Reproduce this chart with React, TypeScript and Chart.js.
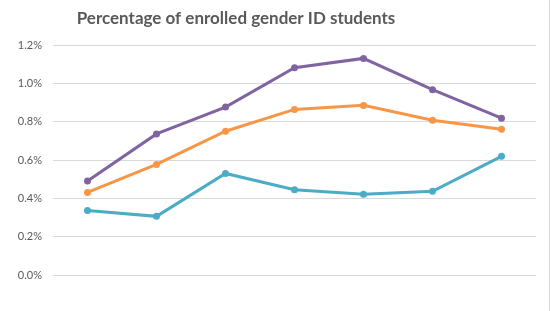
import React, { useEffect, useRef } from "react";
import { Chart, registerables } from "chart.js";

Chart.register(...registerables);

const categories = ["1", "2", "3", "4", "5", "6", "7"];
const purpleValues = [0.49, 0.736, 0.876, 1.081, 1.13, 0.967, 0.818];
const orangeValues = [0.431, 0.577, 0.75, 0.864, 0.885, 0.807, 0.76];
const tealValues = [0.337, 0.306, 0.53, 0.445, 0.421, 0.437, 0.619];
const titleText = "Percentage of enrolled gender ID students";

const titlePlugin = {
  id: "customTitle",
  afterDraw(chart: any) {
    const ctx = chart.ctx;
    ctx.save();
    ctx.font = "bold 17px Lato, 'Open Sans', sans-serif";
    ctx.fillStyle = "#595959";
    ctx.textAlign = "center";
    ctx.textBaseline = "alphabetic";
    ctx.fillText(titleText, 236, 24);
    ctx.restore();
  },
};

const borderPlugin = {
  id: "rightBorder",
  afterDraw(chart: any) {
    const ctx = chart.ctx;
    ctx.save();
    ctx.strokeStyle = "#d9d9d9";
    ctx.lineWidth = 1;
    ctx.beginPath();
    ctx.moveTo(549.5, 0);
    ctx.lineTo(549.5, 311);
    ctx.stroke();
    ctx.restore();
  },
};

function makeDataset(label: string, data: number[], color: string) {
  return {
    label,
    data,
    borderColor: color,
    backgroundColor: color,
    borderWidth: 3,
    pointRadius: 3.5,
    pointHoverRadius: 3.5,
    pointBorderWidth: 0,
    tension: 0,
  };
}

export default function App() {
  const ref = useRef<HTMLCanvasElement | null>(null);
  useEffect(() => {
    if (!ref.current) return;
    const chart = new Chart(ref.current, {
      type: "line",
      data: {
        labels: categories,
        datasets: [
          makeDataset("Purple", purpleValues, "#8064A2"),
          makeDataset("Orange", orangeValues, "#F79646"),
          makeDataset("Teal", tealValues, "#4BACC6"),
        ],
      },
      options: {
        animation: false,
        responsive: false,
        maintainAspectRatio: false,
        layout: { padding: { top: 45, bottom: 36, left: 0, right: 14 } },
        plugins: {
          legend: { display: false },
          title: { display: false },
          tooltip: { enabled: false },
        },
        scales: {
          x: {
            type: "category",
            offset: true,
            display: false,
          },
          y: {
            min: 0,
            max: 1.2,
            ticks: {
              stepSize: 0.2,
              padding: 11,
              color: "#595959",
              font: { family: "Lato, 'Open Sans', sans-serif", size: 11 },
              callback: (v: any) => Number(v).toFixed(1) + "%",
            },
            grid: { color: "#d9d9d9", drawTicks: false, lineWidth: 1 },
            border: { display: false },
            afterFit: (scale: any) => {
              scale.width = 53;
            },
          },
        },
      },
      plugins: [titlePlugin, borderPlugin],
    });
    return () => chart.destroy();
  }, []);
  return (
    <div style={{ position: "fixed", left: 0, top: 0, width: 550, height: 311, background: "#fff" }}>
      <canvas ref={ref} width={550} height={311} style={{ width: 550, height: 311 }} />
    </div>
  );
}
